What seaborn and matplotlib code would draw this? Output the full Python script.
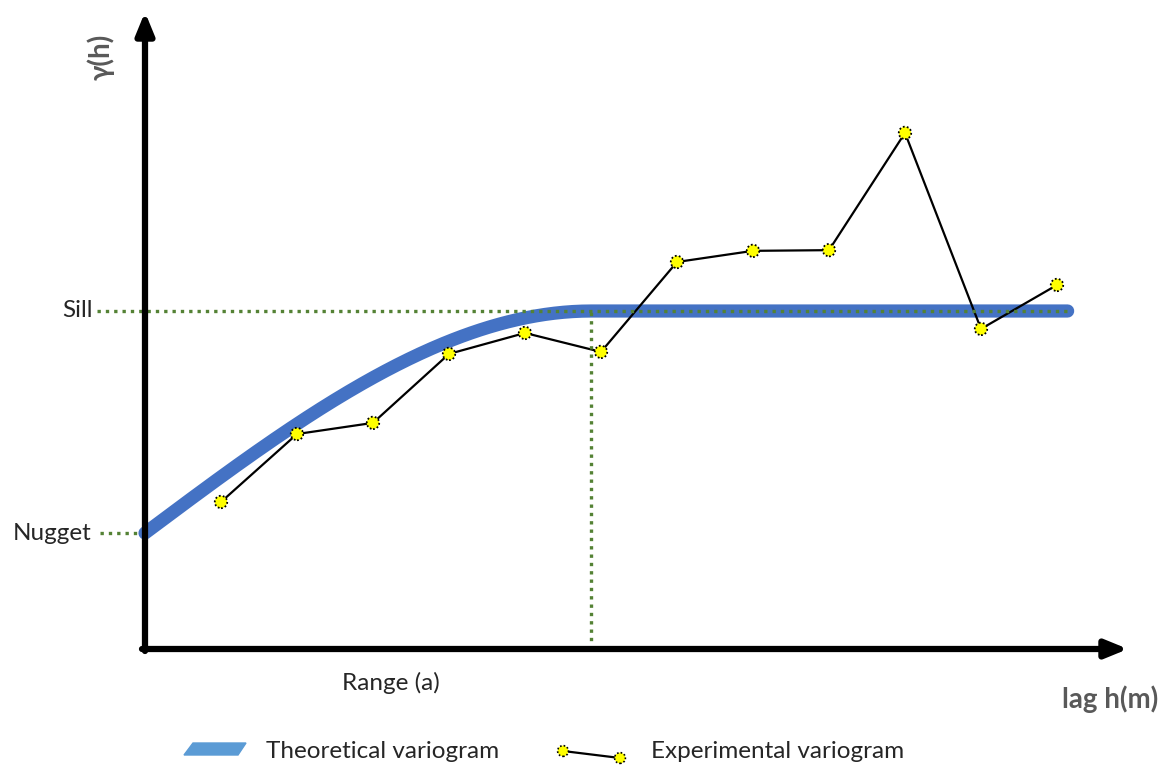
import numpy as np
import pandas as pd
import matplotlib
matplotlib.use("Agg")
import matplotlib.pyplot as plt
from matplotlib.patches import Polygon
import seaborn as sns

# Experimental semivariance at each lag
lags = [1, 2, 3, 4, 5, 6, 7, 8, 9, 10, 11, 12]
gamma_exp = [0.435, 0.636, 0.669, 0.873, 0.935, 0.879, 1.145, 1.178, 1.180, 1.527, 0.947, 1.077]

# Spherical model parameters
nugget = 0.343
sill = 1.0
range_a = 5.87
max_lag = 12.14

sns.set_theme(style="white")
plt.rcParams["font.family"] = ["Lato", "DejaVu Sans"]

fig = plt.figure(figsize=(11.72, 7.65), dpi=100)
ax = fig.add_axes([0, 0, 1, 1])
ax.set_axis_off()

# pixel-based frame: origin at (145, 649), 76 px per lag, 338 px per unit of gamma
X0, Y0, SX, SY = 145, 649, 76.0, 338.0
W, H = 1172, 765
ax.set_xlim(-X0 / SX, (W - X0) / SX)
ax.set_ylim((Y0 - H) / SY, Y0 / SY)


def px(x):
    return (x - X0) / SX


def py(y):
    return (Y0 - y) / SY


# theoretical (spherical) variogram
h = np.linspace(0, max_lag, 400)
hr = np.clip(h / range_a, 0, 1)
gamma_th = nugget + (sill - nugget) * (1.5 * hr - 0.5 * hr ** 3)
theo = pd.DataFrame({"lag": h, "gamma": gamma_th})
exp = pd.DataFrame({"lag": lags, "gamma": gamma_exp})

blue = "#4472C4"
green = "#548235"

sns.lineplot(data=theo, x="lag", y="gamma", ax=ax, color=blue, lw=9.5,
             solid_capstyle="round", zorder=2, legend=False)
sns.lineplot(data=exp, x="lag", y="gamma", ax=ax, color="black", lw=1.6,
             zorder=3, legend=False)

# reference lines for sill, nugget and range
dot = dict(color=green, lw=2.4, linestyle=(0, (1, 1.5)), zorder=4)
ax.plot([px(97), max_lag], [sill, sill], **dot)
ax.plot([px(100), 0], [nugget, nugget], **dot)
ax.plot([range_a, range_a], [0, sill], **dot)

ax.scatter(exp["lag"], exp["gamma"], s=80, c="#FFFF00", edgecolors="black",
           linewidths=1.3, linestyles=(0, (1, 1.2)), zorder=5)

# axes with arrow heads
arrow = dict(arrowstyle="-|>,head_width=0.45,head_length=1.1", lw=4.5,
             color="black", shrinkA=0, shrinkB=0)
ax.annotate("", xy=(px(1128), 0), xytext=(px(142), 0), arrowprops=arrow, zorder=6)
ax.annotate("", xy=(0, py(12)), xytext=(0, py(651)), arrowprops=arrow, zorder=6)

txt = "#262626"
grey = "#595959"
fs = 17.5
ax.text(px(93), sill, "Sill", ha="right", va="center", fontsize=fs, color=txt)
ax.text(px(91), nugget, "Nugget", ha="right", va="center", fontsize=fs, color=txt)
ax.text(px(391), py(683), "Range (a)", ha="center", va="center", fontsize=fs, color=txt)
ax.text(px(101), py(57), "γ(h)", ha="center", va="center", rotation=90,
        fontsize=20, fontweight="bold", color=grey)
ax.text(px(1110), py(699), "lag h(m)", ha="center", va="center",
        fontsize=20, fontweight="bold", color=grey)

# legend
ax.add_patch(Polygon([(px(184), py(755)), (px(193), py(743)), (px(246), py(743)),
                      (px(238), py(755))], closed=True, color="#5B9BD5", zorder=3))
ax.text(px(266), py(751), "Theoretical variogram", ha="left", va="center",
        fontsize=fs, color=txt)
ax.plot([px(563), px(620)], [py(751), py(758)], color="black", lw=1.6, zorder=3)
ax.scatter([px(563), px(620)], [py(751), py(758)], s=60, c="#FFFF00",
           edgecolors="black", linewidths=1.2, linestyles=(0, (1, 1.2)), zorder=5)
ax.text(px(651), py(751), "Experimental variogram", ha="left", va="center",
        fontsize=fs, color=txt)

fig.savefig("out.png", dpi=100)
